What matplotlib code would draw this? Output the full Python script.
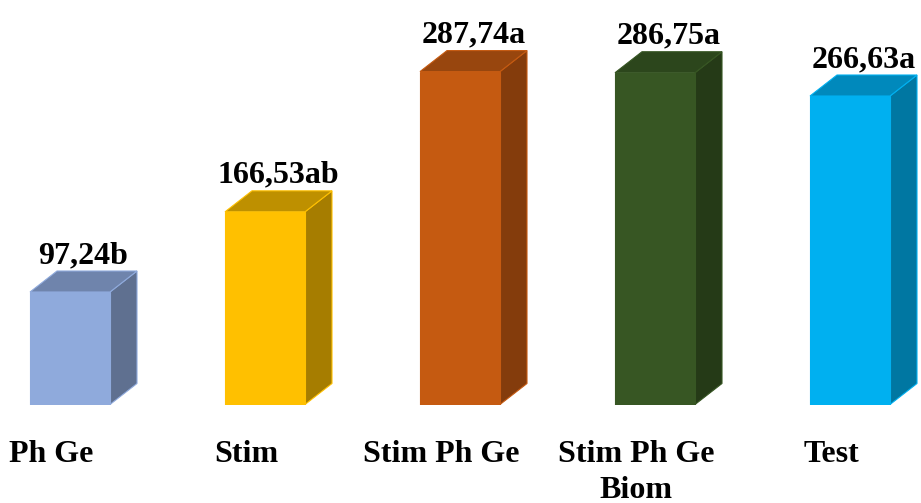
import matplotlib.pyplot as plt
from matplotlib.patches import Polygon

# ---------------- data ----------------
categories = ["Ph Ge", "Stim", "Stim Ph Ge", "Stim Ph Ge\nBiom", "Test"]
values = [97.24, 166.53, 287.74, 286.75, 266.63]
letters = ["b", "ab", "a", "a", "a"]
front_colors = ["#8FAADC", "#FFC000", "#C55A11", "#375623", "#00B0F0"]
side_colors = ["#5F7090", "#A67D00", "#843C0C", "#253A17", "#0077A2"]
top_colors = ["#6F84AC", "#BE9000", "#98460E", "#2C461C", "#0089BC"]
# --------------------------------------

W, H = 921, 503
px_per_unit = 1.157       # vertical scale
base_px = 404.5           # y pixel of the floor
spacing_px = 195.0        # distance between bars
first_px = 70.0           # centre of first bar front

fig = plt.figure(figsize=(W / 100, H / 100), dpi=100)
ax = fig.add_axes([0, (H - base_px) / H, 1, base_px / H])
ax.set_xlim(-first_px / spacing_px, (W - first_px) / spacing_px)
ax.set_ylim(0, base_px / px_per_unit)
ax.axis("off")

width = 80 / spacing_px
dx = 27 / spacing_px
dy = 21 / px_per_unit

x = list(range(len(values)))
ax.bar(x, values, width=width, color=front_colors, edgecolor=front_colors,
       linewidth=0.8, zorder=3)

for i, v in enumerate(values):
    l, r = i - width / 2, i + width / 2
    side = Polygon([(r, 0), (r + dx, dy), (r + dx, v + dy), (r, v)],
                   closed=True, facecolor=side_colors[i],
                   edgecolor=front_colors[i], linewidth=0.8, zorder=2)
    top = Polygon([(l, v), (l + dx, v + dy), (r + dx, v + dy), (r, v)],
                  closed=True, facecolor=top_colors[i],
                  edgecolor=front_colors[i], linewidth=0.8, zorder=2)
    ax.add_patch(side)
    ax.add_patch(top)
    label = f"{v:.2f}".replace(".", ",") + letters[i]
    ax.text(i + dx / 2, v + dy + 8 / px_per_unit, label, ha="center",
            va="baseline", fontsize=23, fontweight="bold",
            family="Liberation Serif", zorder=4)

# category names under the bars
for i, c in enumerate(categories):
    fig.text((first_px - 19 + i * spacing_px) / W, 1 - 440 / H, c,
             ha="center", va="top", fontsize=23, fontweight="bold",
             family="Liberation Serif", linespacing=1.3)

fig.savefig("out.png", dpi=100)
